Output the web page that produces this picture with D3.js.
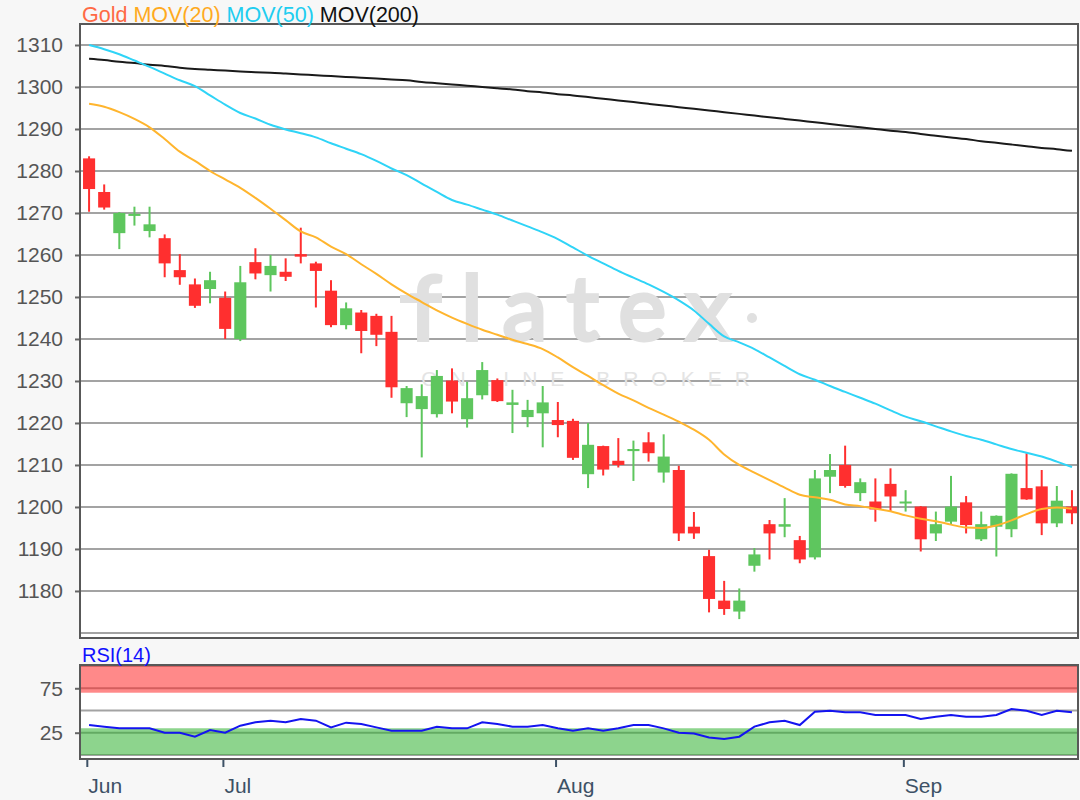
<!DOCTYPE html>
<html>
<head>
<meta charset="utf-8">
<script src="https://cdn.jsdelivr.net/npm/d3@7/dist/d3.min.js"></script>
<style>
  body { margin: 0; background: #f7f7f7; }
  svg { display: block; font-family: "Liberation Sans", Arial, sans-serif; }
</style>
</head>
<body>
<svg width="1080" height="800"></svg>
<script>
// Daily candles, Jun - Sep
const opens = [1283.0,1275.0,1265.2,1269.3,1265.7,1264.0,1256.4,1253.0,1251.9,1249.8,1240.0,1258.3,1255.2,1256.0,1260.2,1258.0,1251.5,1243.3,1246.3,1245.5,1241.7,1224.7,1223.3,1222.1,1230.1,1220.9,1226.6,1230.2,1224.3,1221.4,1222.3,1220.7,1220.5,1207.8,1214.5,1211.0,1213.3,1215.4,1208.2,1208.8,1195.3,1188.3,1177.7,1175.1,1186.0,1195.9,1195.3,1192.1,1188.0,1207.2,1210.0,1203.3,1201.3,1205.5,1201.0,1200.1,1193.7,1196.5,1201.1,1192.3,1195.3,1194.7,1204.5,1204.9,1196.1,1200.1];
const highs = [1283.5,1276.8,1270.2,1271.5,1271.5,1264.9,1260.2,1254.4,1256.0,1251.3,1257.4,1261.6,1260.0,1259.2,1266.5,1258.4,1254.0,1248.7,1246.9,1246.0,1245.5,1228.8,1229.2,1232.6,1233.0,1229.8,1234.5,1230.6,1227.9,1225.5,1228.8,1225.0,1221.0,1220.0,1214.6,1216.4,1215.8,1217.8,1217.3,1209.8,1198.8,1189.8,1182.4,1180.6,1190.2,1196.9,1202.1,1193.1,1208.8,1212.6,1214.6,1206.8,1206.8,1209.2,1204.0,1200.2,1198.9,1207.4,1202.6,1198.9,1198.0,1208.0,1212.8,1208.8,1205.0,1204.0];
const lows = [1270.3,1270.8,1261.4,1267.0,1264.2,1254.7,1252.9,1247.4,1248.5,1240.0,1239.5,1254.2,1251.3,1253.8,1258.0,1247.5,1242.8,1242.3,1236.6,1238.3,1226.0,1221.4,1211.8,1221.3,1222.3,1218.9,1225.6,1225.0,1217.6,1219.0,1214.2,1216.6,1211.2,1204.5,1207.5,1209.4,1206.2,1210.8,1205.8,1191.9,1192.4,1174.9,1174.3,1173.3,1184.6,1187.5,1192.8,1186.6,1187.5,1203.3,1204.6,1201.4,1196.5,1198.9,1198.9,1189.4,1191.9,1195.9,1193.7,1191.9,1188.2,1192.8,1201.7,1193.3,1195.2,1195.9];
const closes = [1275.7,1271.3,1270.0,1269.8,1267.3,1258.0,1254.7,1247.9,1254.0,1242.4,1253.5,1255.6,1257.4,1254.8,1259.6,1256.2,1243.3,1247.3,1241.9,1241.0,1228.5,1228.3,1226.4,1231.2,1225.1,1225.9,1232.6,1225.2,1224.9,1223.1,1224.9,1219.5,1211.7,1214.8,1208.9,1210.0,1213.8,1212.8,1212.0,1193.7,1193.7,1178.1,1175.7,1177.7,1188.7,1193.7,1195.9,1187.5,1206.8,1208.8,1205.0,1205.9,1199.4,1202.5,1201.3,1192.3,1195.9,1200.1,1195.7,1195.9,1197.9,1207.9,1201.8,1196.1,1201.5,1198.5];

// Moving averages, one value per candle
const mov20 = [1296.0,1295.3,1294.0,1292.4,1290.4,1287.6,1284.6,1282.4,1280.0,1278.0,1276.0,1273.6,1271.0,1268.3,1265.6,1264.2,1262.0,1260.2,1257.8,1255.5,1253.0,1250.8,1248.8,1246.8,1245.1,1243.6,1242.2,1241.0,1239.8,1238.8,1237.6,1235.6,1233.3,1231.2,1229.0,1227.0,1225.4,1223.6,1222.0,1220.3,1218.4,1216.0,1212.5,1210.0,1208.2,1206.4,1204.6,1202.9,1202.3,1201.7,1200.6,1200.2,1199.6,1199.0,1198.0,1197.2,1196.6,1195.8,1195.1,1195.0,1195.6,1196.8,1198.3,1199.5,1199.9,1199.6];
const mov50 = [1310.0,1309.0,1307.8,1306.3,1304.8,1303.2,1301.6,1300.2,1298.0,1295.8,1293.8,1292.5,1291.0,1289.9,1289.0,1288.0,1286.6,1285.3,1284.0,1282.4,1280.6,1279.0,1277.0,1275.0,1273.1,1272.0,1270.8,1269.6,1268.2,1266.8,1265.4,1263.8,1261.8,1259.8,1258.0,1256.2,1254.6,1253.0,1251.2,1249.2,1246.8,1243.6,1240.6,1239.2,1237.6,1235.6,1233.6,1231.6,1230.3,1228.8,1227.4,1226.0,1224.6,1223.0,1221.5,1220.4,1219.2,1218.0,1216.9,1216.0,1214.9,1213.8,1212.9,1212.0,1210.8,1209.5];
const mov200 = [1306.7,1306.4,1306.0,1305.7,1305.3,1305.0,1304.6,1304.3,1304.1,1303.9,1303.7,1303.5,1303.4,1303.2,1303.0,1302.8,1302.6,1302.4,1302.2,1302.0,1301.8,1301.6,1301.2,1300.9,1300.6,1300.3,1300.0,1299.7,1299.4,1299.0,1298.7,1298.3,1298.0,1297.6,1297.2,1296.8,1296.4,1296.0,1295.6,1295.2,1294.8,1294.4,1294.0,1293.6,1293.2,1292.8,1292.4,1292.0,1291.6,1291.2,1290.8,1290.4,1290.0,1289.6,1289.3,1288.8,1288.4,1288.0,1287.6,1287.1,1286.7,1286.3,1285.9,1285.5,1285.2,1284.8];

// RSI(14)
const rsi = [33.6,31.8,29.9,29.9,29.9,25.0,25.0,20.5,28.0,25.0,32.9,36.7,38.5,36.7,40.4,38.5,31.0,36.3,34.8,31.0,27.2,27.2,27.2,31.8,29.9,29.9,36.7,34.8,31.8,31.8,33.6,29.9,27.2,29.9,27.2,29.9,33.6,33.6,29.9,25.0,24.2,19.7,17.8,20.5,31.8,36.7,38.5,33.6,48.7,49.8,47.9,47.9,44.9,44.9,44.9,40.4,43.0,44.9,43.0,43.0,44.9,51.7,49.8,44.9,49.8,47.9];

// Axis ticks
const priceTicks = [1180,1190,1200,1210,1220,1230,1240,1250,1260,1270,1280,1290,1300,1310];
const priceGrid = [1170].concat(priceTicks);
const rsiTicks = [25, 75];
const rsiGrid = [0, 25, 50, 75, 100];
const monthLabels = ["Jun", "Jul", "Aug", "Sep"];
const monthIndex = [0, 9, 31, 54];

const svg = d3.select("svg");
const left = 80, right = 1078;
const main = { top: 24, bottom: 638 };
const sub = { top: 665, bottom: 759 };

const x = d3.scaleLinear().domain([-0.6, 65.4]).range([left, right]);
const y = d3.scaleLinear().domain([1168.8, 1315]).range([main.bottom, main.top]);
const yR = d3.scaleLinear().domain([-4.6, 101.2]).range([sub.bottom, sub.top]);
const step = x(1) - x(0);

const candles = opens.map((o, i) => ({ i: i, o: o, h: highs[i], l: lows[i], c: closes[i] }));

// panel backgrounds
[main, sub].forEach(p => {
  svg.append("rect")
    .attr("x", left).attr("y", p.top)
    .attr("width", right - left).attr("height", p.bottom - p.top)
    .attr("fill", "#fff");
});

// price grid
svg.append("g")
  .selectAll("line")
  .data(priceGrid)
  .enter()
  .append("line")
  .attr("x1", left).attr("x2", right)
  .attr("y1", d => y(d)).attr("y2", d => y(d))
  .attr("stroke", "#a3a3a3")
  .attr("stroke-width", 2);

// watermark
const wm = svg.append("g").attr("fill", "#e0e0e0");
wm.append("text")
  .attr("x", 580).attr("y", 340)
  .attr("text-anchor", "middle")
  .attr("font-family", "Lato, 'Open Sans', sans-serif")
  .attr("font-size", "90px")
  .attr("letter-spacing", "20px")
  .attr("stroke", "#e0e0e0")
  .attr("stroke-width", 4)
  .text("flatex");
wm.append("circle")
  .attr("cx", 752).attr("cy", 318).attr("r", 5);
wm.append("rect")
  .attr("x", 400).attr("y", 295)
  .attr("width", 40).attr("height", 8);
wm.append("text")
  .attr("x", 592).attr("y", 386)
  .attr("text-anchor", "middle")
  .attr("font-size", "21px")
  .attr("letter-spacing", "13px")
  .attr("fill", "#e4e4e4")
  .text("ONLINE BROKER");

// candles
const cg = svg.append("g");
cg.selectAll("line")
  .data(candles)
  .enter()
  .append("line")
  .attr("x1", d => x(d.i)).attr("x2", d => x(d.i))
  .attr("y1", d => y(d.h)).attr("y2", d => y(d.l))
  .attr("stroke", d => d.c >= d.o ? "#5ec65e" : "#ff2f2f")
  .attr("stroke-width", 2);
cg.selectAll("rect")
  .data(candles)
  .enter()
  .append("rect")
  .attr("x", d => x(d.i) - step * 0.4)
  .attr("width", step * 0.8)
  .attr("y", d => y(Math.max(d.o, d.c)))
  .attr("height", d => Math.max(2, Math.abs(y(d.o) - y(d.c))))
  .attr("fill", d => d.c >= d.o ? "#5ec65e" : "#ff2f2f");

// moving averages
const maLine = d3.line().curve(d3.curveMonotoneX).x((d, i) => x(i)).y(d => y(d));
[[mov200, "#1a1a1a"], [mov50, "#2fd4f7"], [mov20, "#ffb52e"]].forEach(m => {
  svg.append("path")
    .datum(m[0])
    .attr("d", maLine)
    .attr("fill", "none")
    .attr("stroke", m[1])
    .attr("stroke-width", 2);
});

// y axis (price)
const yAxis = svg.append("g")
  .attr("transform", "translate(" + left + ",0)")
  .call(d3.axisLeft(y).tickValues(priceTicks).tickSize(5).tickPadding(12).tickFormat(d3.format("d")));
yAxis.select(".domain").remove();
yAxis.selectAll("line").attr("stroke", "#666").attr("stroke-width", 2);
yAxis.selectAll("text").attr("font-size", "21px").attr("fill", "#555").attr("font-family", "Liberation Sans, Arial, sans-serif");

// RSI panel: grid, bands, line
svg.append("g")
  .selectAll("line")
  .data(rsiGrid)
  .enter()
  .append("line")
  .attr("x1", left).attr("x2", right)
  .attr("y1", d => yR(d)).attr("y2", d => yR(d))
  .attr("stroke", "#a3a3a3")
  .attr("stroke-width", 2);
svg.append("rect")
  .attr("x", left).attr("width", right - left)
  .attr("y", yR(100)).attr("height", yR(70) - yR(100))
  .attr("fill", "#ff2020").attr("fill-opacity", 0.53);
svg.append("rect")
  .attr("x", left).attr("width", right - left)
  .attr("y", yR(30)).attr("height", yR(0) - yR(30))
  .attr("fill", "#30b030").attr("fill-opacity", 0.55);
svg.append("path")
  .datum(rsi)
  .attr("d", d3.line().x((d, i) => x(i)).y(d => yR(d)))
  .attr("fill", "none")
  .attr("stroke", "#1414f0")
  .attr("stroke-width", 2);

const rAxis = svg.append("g")
  .attr("transform", "translate(" + left + ",0)")
  .call(d3.axisLeft(yR).tickValues(rsiTicks).tickSize(5).tickPadding(12));
rAxis.select(".domain").remove();
rAxis.selectAll("line").attr("stroke", "#666").attr("stroke-width", 2);
rAxis.selectAll("text").attr("font-size", "21px").attr("fill", "#555").attr("font-family", "Liberation Sans, Arial, sans-serif");

// x axis (months)
const xAxis = svg.append("g")
  .attr("transform", "translate(0," + sub.bottom + ")")
  .call(d3.axisBottom(x)
    .tickValues(monthIndex.map(i => i - 0.15))
    .tickSize(8).tickPadding(11)
    .tickFormat((d, k) => monthLabels[k]));
xAxis.select(".domain").remove();
xAxis.selectAll("line").attr("stroke", "#3d5166").attr("stroke-width", 2);
xAxis.selectAll("text")
  .attr("text-anchor", "start")
  .attr("x", 1)
  .attr("font-size", "21px")
  .attr("fill", "#3d5166")
  .attr("font-family", "Liberation Sans, Arial, sans-serif");

// panel borders
[main, sub].forEach(p => {
  svg.append("rect")
    .attr("x", left).attr("y", p.top)
    .attr("width", right - left).attr("height", p.bottom - p.top)
    .attr("fill", "none")
    .attr("stroke", "#585858")
    .attr("stroke-width", 2);
});

// legends
const legend = svg.append("text")
  .attr("x", 82).attr("y", 22)
  .attr("font-size", "21.5px");
[["Gold", "#ff6a45"], ["MOV(20)", "#ffaa1e"], ["MOV(50)", "#20cdf0"], ["MOV(200)", "#111"]].forEach((l, k) => {
  legend.append("tspan")
    .attr("fill", l[1])
    .text((k ? " " : "") + l[0]);
});

svg.append("text")
  .attr("x", 82).attr("y", 662)
  .attr("font-size", "20px")
  .attr("fill", "#1010ff")
  .text("RSI(14)");
</script>
</body>
</html>
